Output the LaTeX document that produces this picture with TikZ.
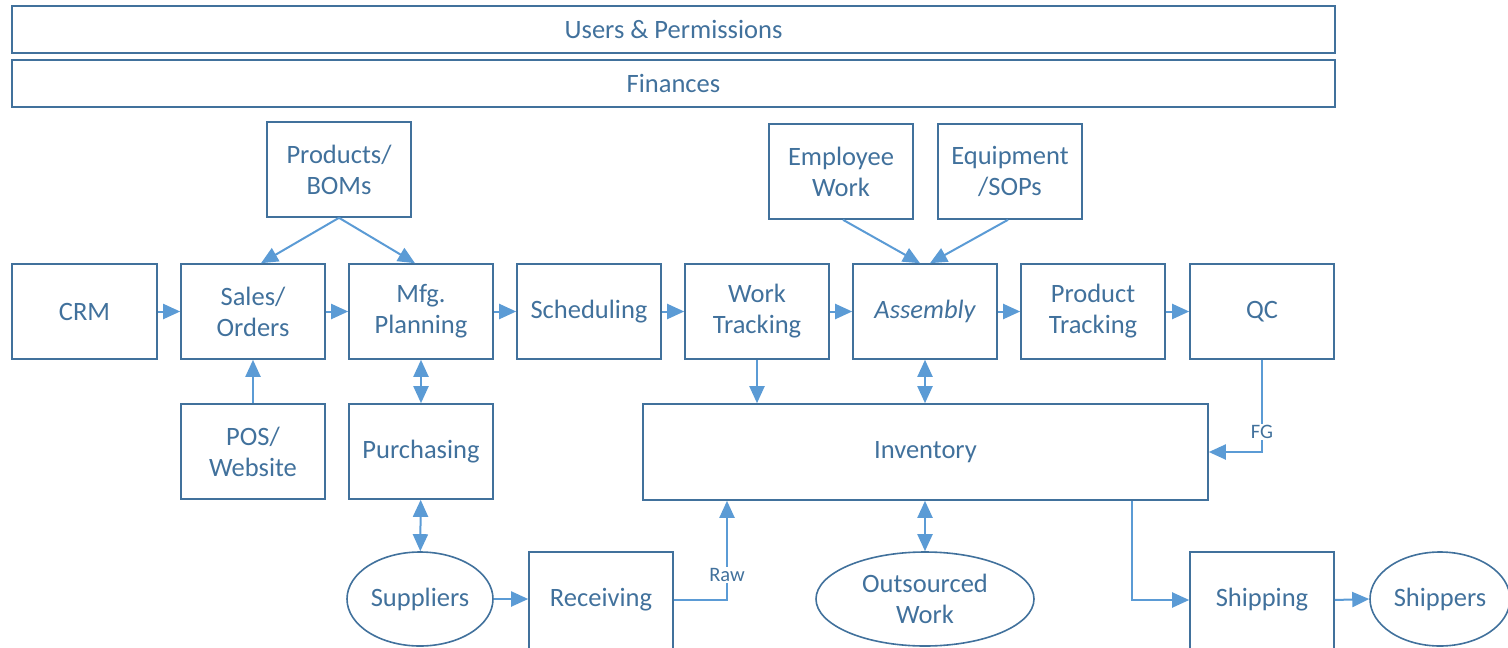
\documentclass[tikz,border=0pt]{standalone}
\usepackage{fontspec}
\setmainfont{Carlito}
\usetikzlibrary{arrows.meta,shapes.geometric}
\definecolor{boxc}{HTML}{41719C}
\definecolor{txtc}{HTML}{41719C}
\definecolor{arrc}{HTML}{5B9BD5}
\begin{document}
\begin{tikzpicture}[x=1pt,y=-1pt,
  box/.style={draw=boxc,line width=1.6pt,text=txtc,align=center,inner sep=0pt,
    font=\fontsize{26.5}{31}\selectfont},
  oval/.style={box,ellipse},
  conn/.style={draw=arrc,line width=2pt,-{Triangle[length=17pt,width=15pt]}},
  dconn/.style={draw=arrc,line width=2pt,{Triangle[length=17pt,width=15pt]}-{Triangle[length=17pt,width=15pt]}},
  lbl/.style={fill=white,text=txtc,inner sep=1.5pt,font=\fontsize{20.5}{22}\selectfont}]
\useasboundingbox (0,0) rectangle (1508,648);
\clip (0,0) rectangle (1508,648);
% top bars
\node[box,minimum width=1323pt,minimum height=47pt] (users) at (673.5,29.5) {Users \& Permissions};
\node[box,minimum width=1323pt,minimum height=47pt] (fin) at (673.5,83.5) {Finances};
% upper boxes
\node[box,minimum width=144pt,minimum height=95pt] (prod) at (339,169.5) {Products/\\BOMs};
\node[box,minimum width=144pt,minimum height=95pt] (emp) at (841,171.5) {Employee\\Work};
\node[box,minimum width=144pt,minimum height=95pt] (equip) at (1010,171.5) {Equipment\\/SOPs};
% main row
\node[box,minimum width=145pt,minimum height=95pt] (crm) at (84.5,311.5) {CRM};
\node[box,minimum width=144pt,minimum height=95pt] (sales) at (253,311.5) {Sales/\\Orders};
\node[box,minimum width=144pt,minimum height=95pt] (mfg) at (421,311.5) {Mfg.\\Planning};
\node[box,minimum width=144pt,minimum height=95pt] (sched) at (589,311.5) {Scheduling};
\node[box,minimum width=144pt,minimum height=95pt] (wt) at (757,311.5) {Work\\Tracking};
\node[box,minimum width=144pt,minimum height=95pt] (asm) at (925,311.5) {\itshape Assembly};
\node[box,minimum width=144pt,minimum height=95pt] (pt) at (1093,311.5) {Product\\Tracking};
\node[box,minimum width=144pt,minimum height=95pt] (qc) at (1262,311.5) {QC};
% lower row
\node[box,minimum width=144pt,minimum height=95pt] (pos) at (253,451.5) {POS/\\Website};
\node[box,minimum width=144pt,minimum height=95pt] (purch) at (421,451.5) {Purchasing};
\node[box,minimum width=565pt,minimum height=96pt] (inv) at (925.5,452) {Inventory};
% bottom row
\node[oval,minimum width=146pt,minimum height=94pt] (supp) at (420,599) {Suppliers};
\node[box,minimum width=144pt,minimum height=120pt] (recv) at (601,612) {};
\node[text=txtc,font=\fontsize{26.5}{31}\selectfont] (recvt) at (601,600) {Receiving};
\node[oval,minimum width=218pt,minimum height=94pt] (outs) at (925,599) {Outsourced\\Work};
\node[box,minimum width=144pt,minimum height=120pt] (ship) at (1262,612) {};
\node[text=txtc,font=\fontsize{26.5}{31}\selectfont] (shipt) at (1262,600) {Shipping};
\node[oval,minimum width=140pt,minimum height=94pt] (shprs) at (1440,599) {Shippers};
% connectors main row
\draw[conn] (crm) -- (sales);
\draw[conn] (sales) -- (mfg);
\draw[conn] (mfg) -- (sched);
\draw[conn] (sched) -- (wt);
\draw[conn] (wt) -- (asm);
\draw[conn] (asm) -- (pt);
\draw[conn] (pt) -- (qc);
% from above
\draw[conn] (prod.south) -- ([xshift=8pt]sales.north);
\draw[conn] (prod.south) -- ([xshift=-6pt]mfg.north);
\draw[conn] ([xshift=2pt]emp.south) -- ([xshift=-5pt]asm.north);
\draw[conn] ([xshift=-2pt]equip.south) -- ([xshift=5pt]asm.north);
% verticals
\draw[conn] (pos) -- (sales);
\draw[dconn] (mfg) -- (purch);
\draw[conn] (wt.south) -- (wt.south |- inv.north);
\draw[dconn] (asm.south) -- (asm.south |- inv.north);
\draw[dconn] (purch) -- (supp);
\draw[dconn] (inv.south -| outs.north) -- (outs.north);
% QC to inventory
\coordinate (qcc) at (qc.south |- inv.east);
\draw[conn] (qc.south) -- (qcc) -- (inv.east);
\node[lbl] (fg) at (1262,432) {FG};
% supplier -> receiving -> inventory
\draw[conn] (supp.east) -- (supp.east -| recv.west);
\coordinate (rawc) at (727,600);
\draw[conn] (recv.east |- rawc) -- (rawc) -- (rawc |- inv.south);
\node[lbl] (raw) at (727,575) {Raw};
% inventory -> shipping -> shippers
\coordinate (shc) at (1132,600);
\draw[conn] (shc |- inv.south) -- (shc) -- (shc -| ship.west);
\draw[conn] (ship.east |- shc) -- (shprs.west);
\end{tikzpicture}
\end{document}
